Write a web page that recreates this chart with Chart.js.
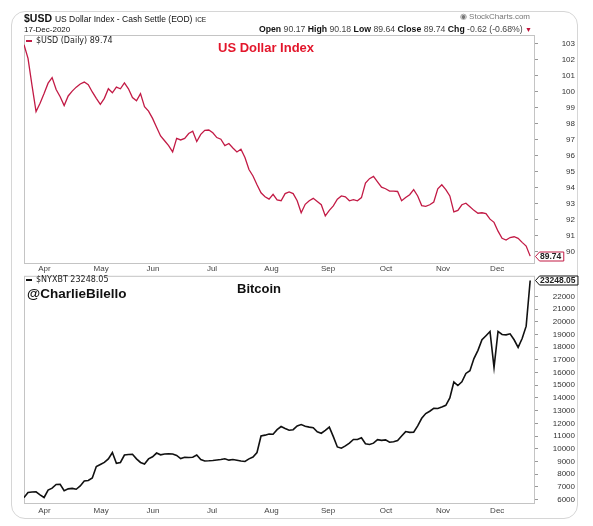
<!DOCTYPE html>
<html>
<head>
<meta charset="utf-8">
<script src="https://cdn.jsdelivr.net/npm/chart.js@4.4.0/dist/chart.umd.min.js"></script>
<style>
  body { margin: 0; background: #fff; width: 593px; height: 526px; position: relative; overflow: hidden;
         font-family: "Liberation Sans", Arial, sans-serif; color: #111; }
  .frame { position: absolute; left: 11px; top: 11px; width: 565px; height: 506px; border: 1px solid #d6d6d6; border-radius: 14px; }
  canvas { position: absolute; left: 0; }
  #usdChart { top: 0; }
  #btcChart { top: 270px; }
  .t { position: absolute; white-space: nowrap; line-height: 1; }
  .dash { position: absolute; width: 6px; height: 2px; }
</style>
</head>
<body>
<div class="frame"></div>
<canvas id="usdChart" width="593" height="275"></canvas>
<canvas id="btcChart" width="593" height="256"></canvas>

<div class="t" style="left:24px;top:13px;font-size:10.5px;font-weight:bold">$USD <span style="font-weight:normal;font-size:8.5px">US Dollar Index - Cash Settle (EOD)</span> <span style="font-weight:normal;font-size:6.5px">ICE</span></div>
<div class="t" style="left:24px;top:26px;font-size:8px">17-Dec-2020</div>
<div class="t" style="right:63px;top:13px;font-size:8px;color:#777">&#9673; StockCharts.com</div>
<div class="t" style="right:61px;top:25px;font-size:8.7px;color:#444"><b style="color:#111">Open</b> 90.17 <b style="color:#111">High</b> 90.18 <b style="color:#111">Low</b> 89.64 <b style="color:#111">Close</b> 89.74 <b style="color:#111">Chg</b> -0.62 (-0.68%) <span style="color:#c0143c;font-size:7px">&#9660;</span></div>

<div class="dash" style="left:26px;top:40px;background:#c21a45"></div>
<div class="t" style="left:36px;top:37px;font-size:8px;font-family:'DejaVu Sans',sans-serif;color:#222">$USD (Daily) 89.74</div>
<div class="t" style="left:218px;top:41px;font-size:13px;font-weight:bold;color:#e3162b">US Dollar Index</div>

<div class="dash" style="left:26px;top:279px;background:#111"></div>
<div class="t" style="left:36px;top:276px;font-size:8px;font-family:'DejaVu Sans',sans-serif;color:#222">$NYXBT 23248.05</div>
<div class="t" style="left:27px;top:287px;font-size:13.5px;font-weight:bold">@CharlieBilello</div>
<div class="t" style="left:237px;top:282px;font-size:13px;font-weight:bold">Bitcoin</div>

<script>
// sampled every ~1.5 trading days, 19-Mar-2020 .. 17-Dec-2020
const usdValues = [
  102.95, 102.1, 100.4, 98.77, 99.3, 99.9, 100.55, 100.9, 100.15, 99.7,
  99.15, 99.75, 100.05, 100.3, 100.5, 100.62, 100.45, 100.0, 99.6, 99.22,
  99.6, 100.2, 99.95, 100.3, 100.2, 100.56, 100.2, 99.65, 99.45, 99.9,
  99.08, 98.8, 98.35, 97.8, 97.25, 96.95, 96.65, 96.25, 97.1, 97.0,
  97.1, 97.4, 97.55, 96.9, 97.35, 97.6, 97.62, 97.45, 97.15, 97.05,
  96.65, 96.78, 96.5, 96.25, 96.42, 95.9, 95.15, 94.75, 94.2, 93.7,
  93.45, 93.3, 93.6, 93.25, 93.2, 93.65, 93.75, 93.65, 93.2, 92.45,
  92.98, 93.2, 93.35, 93.15, 92.95, 92.25, 92.6, 92.88, 93.3, 93.5,
  93.45, 93.2, 93.27, 93.2, 93.4, 94.3, 94.58, 94.72, 94.38, 94.05,
  93.95, 93.8, 93.8, 93.78, 93.2, 93.4, 93.58, 93.9, 93.5, 92.9,
  92.85, 92.95, 93.12, 93.95, 94.2, 93.9, 93.5, 92.5, 92.6, 92.95,
  93.05, 92.83, 92.6, 92.42, 92.45, 92.4, 92.05, 91.85, 91.3, 90.85,
  90.74, 90.9, 90.95, 90.85, 90.6, 90.37, 89.74
];

const btcValues = [
  6150, 6550, 6590, 6600, 6370, 6160, 6750, 6900, 7190, 7200,
  6700, 6840, 6880, 6810, 7070, 7460, 7500, 7700, 8600, 8760,
  8920, 9200, 9700, 8850, 8920, 9500, 9550, 9560, 9200, 8920,
  8800, 9200, 9370, 9660, 9520, 9590, 9600, 9590, 9470, 9230,
  9330, 9310, 9330, 9500, 9150, 9040, 9050, 9075, 9110, 9150,
  9210, 9100, 9150, 9100, 9030, 9000, 9200, 9350, 9700, 11000,
  11070, 11160, 11140, 11500, 11750, 11600, 11460, 11500, 11800, 11900,
  11770, 11700, 11650, 11330, 11220, 11440, 11700, 10950, 10140, 10040,
  10220, 10440, 10730, 10730, 10860, 10390, 10340, 10440, 10720, 10660,
  10700, 10510, 10550, 10650, 11000, 11350, 11290, 11300, 11800, 12400,
  12770, 12950, 13180, 13170, 13290, 13420, 14000, 15250, 14980, 15270,
  15930, 16150, 17100, 17750, 18580, 18900, 19230, 16400, 19240, 19000,
  18970, 19050, 18580, 17980, 18680, 19650, 23248.05
];

const monthLabels = ["Apr", "May", "Jun", "Jul", "Aug", "Sep", "Oct", "Nov", "Dec"];
const monthStartIdx = [5.1, 19.2, 32.1, 46.8, 61.6, 75.7, 90.1, 104.3, 117.8];
const usdTicks = [90, 91, 92, 93, 94, 95, 96, 97, 98, 99, 100, 101, 102, 103];
const btcTicks = [6000, 7000, 8000, 9000, 10000, 11000, 12000, 13000, 14000, 15000, 16000, 17000, 18000, 19000, 20000, 21000, 22000];

const FONT = '"Liberation Sans", Arial, sans-serif';

const panelFrame = {
  id: "panelFrame",
  beforeDatasetsDraw(chart) {
    const { ctx, chartArea: a } = chart;
    ctx.save();
    ctx.strokeStyle = "#c4c4c4";
    ctx.lineWidth = 1;
    ctx.strokeRect(a.left + 0.5, a.top + 0.5, a.right - a.left - 1, a.bottom - a.top);
    ctx.restore();
  }
};

const lastTag = {
  id: "lastTag",
  afterDraw(chart, args, opts) {
    const data = chart.data.datasets[0].data;
    const last = data[data.length - 1].y;
    const text = last.toFixed(2);
    const ctx = chart.ctx;
    const y = Math.round(chart.scales.y.getPixelForValue(last)) + 0.5;
    const x0 = chart.chartArea.right + 0.5;
    ctx.save();
    ctx.font = "bold 8.5px " + FONT;
    const w = ctx.measureText(text).width + 7;
    ctx.beginPath();
    ctx.moveTo(x0, y);
    ctx.lineTo(x0 + 4, y - 4.5);
    ctx.lineTo(x0 + w, y - 4.5);
    ctx.lineTo(x0 + w, y + 4.5);
    ctx.lineTo(x0 + 4, y + 4.5);
    ctx.closePath();
    ctx.fillStyle = "#fff";
    ctx.fill();
    ctx.strokeStyle = opts.color;
    ctx.lineWidth = 1;
    ctx.stroke();
    ctx.fillStyle = "#222";
    ctx.textBaseline = "middle";
    ctx.textAlign = "left";
    ctx.fillText(text, x0 + 4.5, y + 0.5);
    ctx.restore();
  }
};

function makeChart(id, values, color, lineWidth, yMin, yMax, yTicks, padding, labelPad) {
  const ctx = document.getElementById(id).getContext("2d");
  return new Chart(ctx, {
    type: "line",
    data: {
      datasets: [{
        data: values.map((v, i) => ({ x: i, y: v })),
        borderColor: color,
        borderWidth: lineWidth,
        pointRadius: 0,
        tension: 0,
        fill: false
      }]
    },
    options: {
      responsive: false,
      animation: false,
      devicePixelRatio: 1,
      layout: { padding: padding },
      plugins: {
        legend: { display: false },
        tooltip: { enabled: false },
        lastTag: { color: color }
      },
      scales: {
        x: {
          type: "linear",
          min: 0,
          max: 127.2,
          grid: { display: false, drawTicks: false },
          border: { display: false },
          afterBuildTicks: (ax) => { ax.ticks = monthStartIdx.map(v => ({ value: v })); },
          afterFit: (ax) => { ax.height = 12; },
          ticks: {
            autoSkip: false,
            maxRotation: 0,
            padding: labelPad,
            color: "#444",
            font: { family: FONT, size: 8 },
            callback: (v, i) => monthLabels[i]
          }
        },
        y: {
          position: "right",
          min: yMin,
          max: yMax,
          grid: { drawOnChartArea: false, drawTicks: true, tickLength: 3, color: "#999" },
          border: { display: false },
          afterBuildTicks: (ax) => { ax.ticks = yTicks.map(v => ({ value: v })); },
          afterFit: (ax) => { ax.width = 40; },
          ticks: {
            crossAlign: "far",
            padding: 1,
            color: "#333",
            font: { family: FONT, size: 8 },
            callback: (v) => String(v)
          }
        }
      }
    },
    plugins: [panelFrame, lastTag]
  });
}

window.onload = function () {
  makeChart("usdChart", usdValues, "#c21a45", 1.3, 89.31, 103.56, usdTicks,
    { left: 24, top: 35, right: 18, bottom: 0 }, 1);
  makeChart("btcChart", btcValues, "#111", 1.6, 5727, 23617, btcTicks,
    { left: 24, top: 4, right: 18, bottom: 11 }, 3);
};
</script>
</body>
</html>
